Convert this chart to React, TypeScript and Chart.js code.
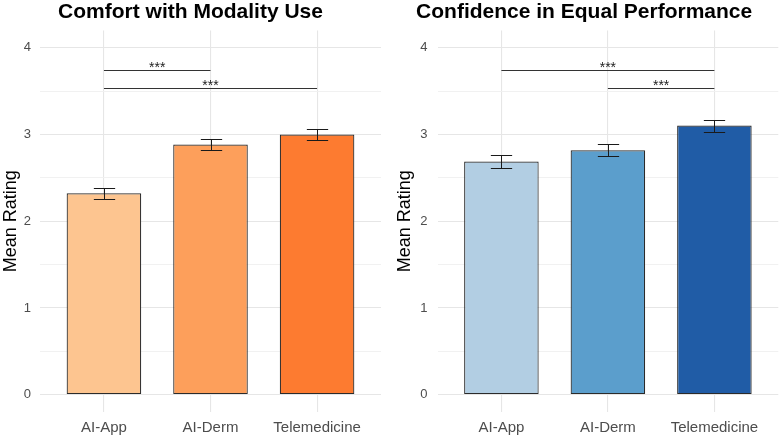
import React, { useEffect, useRef } from "react";
import { Chart, registerables } from "chart.js";

Chart.register(...registerables);

// Categories and data
const modalities = ["AI-App", "AI-Derm", "Telemedicine"];

const comfortMeans = [2.323, 2.885, 3.0];
const comfortSE = [0.065, 0.064, 0.06];
const comfortColors = ["#FDC590", "#FD9F5B", "#FD7B30"];
const comfortBracketFrom = ["AI-App", "AI-App"];
const comfortBracketTo = ["AI-Derm", "Telemedicine"];
const comfortBracketY = [3.74, 3.54];
const comfortBracketLabel = ["***", "***"];

const confidenceMeans = [2.688, 2.819, 3.104];
const confidenceSE = [0.073, 0.072, 0.069];
const confidenceColors = ["#B2CEE3", "#5B9ECC", "#205CA6"];
const confidenceBracketFrom = ["AI-App", "AI-Derm"];
const confidenceBracketTo = ["Telemedicine", "Telemedicine"];
const confidenceBracketY = [3.74, 3.54];
const confidenceBracketLabel = ["***", "***"];

const yTickValues = [0, 0.5, 1, 1.5, 2, 2.5, 3, 3.5, 4];

const FONT = "'Liberation Sans', Arial, Helvetica, sans-serif";

// Mean ± SE whiskers drawn on top of the bars
const errorBarPlugin = {
  id: "errorBars",
  afterDatasetsDraw(chart: any, _args: any, opts: any) {
    const { ctx } = chart;
    const xs = chart.scales.x;
    const ys = chart.scales.y;
    ctx.save();
    ctx.strokeStyle = "#1a1a1a";
    ctx.lineWidth = 1;
    (opts.means as number[]).forEach((m, i) => {
      const cx = Math.round(xs.getPixelForValue(i + 1)) + 0.5;
      const half = xs.getPixelForValue(i + 1 + opts.capHalf) - xs.getPixelForValue(i + 1);
      const yTop = Math.round(ys.getPixelForValue(m + opts.errors[i])) + 0.5;
      const yBot = Math.round(ys.getPixelForValue(m - opts.errors[i])) + 0.5;
      ctx.beginPath();
      ctx.moveTo(cx, yTop);
      ctx.lineTo(cx, yBot);
      ctx.moveTo(cx - half, yTop);
      ctx.lineTo(cx + half, yTop);
      ctx.moveTo(cx - half, yBot);
      ctx.lineTo(cx + half, yBot);
      ctx.stroke();
    });
    ctx.restore();
  },
};

// Pairwise significance brackets above the bars
const sigBracketPlugin = {
  id: "sigBrackets",
  afterDatasetsDraw(chart: any, _args: any, opts: any) {
    const { ctx } = chart;
    const xs = chart.scales.x;
    const ys = chart.scales.y;
    ctx.save();
    ctx.strokeStyle = "#333333";
    ctx.fillStyle = "#222222";
    ctx.lineWidth = 1;
    ctx.font = `14px ${FONT}`;
    ctx.textAlign = "center";
    ctx.textBaseline = "alphabetic";
    (opts.from as string[]).forEach((f, i) => {
      const x1 = xs.getPixelForValue(modalities.indexOf(f) + 1);
      const x2 = xs.getPixelForValue(modalities.indexOf(opts.to[i]) + 1);
      const y = Math.round(ys.getPixelForValue(opts.y[i])) + 0.5;
      ctx.beginPath();
      ctx.moveTo(x1, y);
      ctx.lineTo(x2, y);
      ctx.stroke();
      ctx.fillText(opts.labels[i], (x1 + x2) / 2, y + 1.5);
    });
    ctx.restore();
  },
};

type PanelProps = {
  title: string;
  means: number[];
  se: number[];
  colors: string[];
  from: string[];
  to: string[];
  by: number[];
  labels: string[];
  axisWidth: number;
  tickPad: number;
  titlePad: number;
  padRight: number;
};

function Panel(p: PanelProps) {
  const ref = useRef<HTMLCanvasElement>(null);

  useEffect(() => {
    if (!ref.current) return;
    const chart = new Chart(ref.current, {
      type: "bar",
      data: {
        datasets: [
          {
            data: p.means.map((v, i) => ({ x: i + 1, y: v })),
            backgroundColor: p.colors,
            borderColor: "#2b2b2b",
            borderWidth: 1.2,
            borderSkipped: false,
            barPercentage: 0.7,
            categoryPercentage: 1,
          } as any,
        ],
      },
      plugins: [errorBarPlugin, sigBracketPlugin],
      options: {
        animation: false,
        responsive: false,
        layout: { padding: { left: 0, right: p.padRight, top: 0, bottom: 0 } },
        plugins: {
          legend: { display: false },
          tooltip: { enabled: false },
          title: {
            display: true,
            text: p.title,
            color: "#000000",
            font: { family: FONT, size: 21, weight: "bold", lineHeight: 1.0 },
            padding: { top: 2, bottom: 7.5 },
          },
          errorBars: { means: p.means, errors: p.se, capHalf: 0.1 },
          sigBrackets: { from: p.from, to: p.to, y: p.by, labels: p.labels },
        } as any,
        scales: {
          x: {
            type: "linear",
            min: 0.4,
            max: 3.6,
            offset: false,
            border: { display: false },
            grid: { color: "#E6E6E6", lineWidth: 1.1, drawTicks: false, offset: false },
            ticks: {
              color: "#4D4D4D",
              font: { family: FONT, size: 15 },
              padding: 7,
              autoSkip: false,
              maxRotation: 0,
              callback: (v: any) => modalities[Number(v) - 1] ?? "",
            },
            afterBuildTicks: (s: any) => {
              s.ticks = modalities.map((_, i) => ({ value: i + 1 }));
            },
            afterFit: (s: any) => {
              s.height = 24;
            },
          },
          y: {
            min: -0.2,
            max: 4.2,
            border: { display: false },
            grid: {
              drawTicks: false,
              color: (c: any) => (c.tick && c.tick.value % 1 === 0 ? "#E6E6E6" : "#EFEFEF"),
              lineWidth: (c: any) => (c.tick && c.tick.value % 1 === 0 ? 1.1 : 0.9),
            },
            ticks: {
              color: "#4D4D4D",
              font: { family: FONT, size: 13 },
              padding: p.tickPad,
              autoSkip: false,
              callback: (v: any) => (Number(v) % 1 === 0 ? String(v) : ""),
            },
            afterBuildTicks: (s: any) => {
              s.ticks = yTickValues.map((v) => ({ value: v }));
            },
            afterFit: (s: any) => {
              s.width = p.axisWidth;
            },
            title: {
              display: true,
              text: "Mean Rating",
              color: "#000000",
              font: { family: FONT, size: 18, lineHeight: 1.2 },
              padding: { top: p.titlePad, bottom: 0 },
            },
          },
        },
      } as any,
    });
    return () => chart.destroy();
  }, []);

  return <canvas ref={ref} width={390} height={436} style={{ width: 390, height: 436, display: "block" }} />;
}

export default function App() {
  return (
    <div
      style={{
        position: "fixed",
        left: 0,
        top: 0,
        width: 780,
        height: 436,
        background: "#ffffff",
        display: "flex",
      }}
    >
      <Panel
        title="Comfort with Modality Use"
        means={comfortMeans}
        se={comfortSE}
        colors={comfortColors}
        from={comfortBracketFrom}
        to={comfortBracketTo}
        by={comfortBracketY}
        labels={comfortBracketLabel}
        axisWidth={40}
        tickPad={9}
        titlePad={0.7}
        padRight={9}
      />
      <Panel
        title="Confidence in Equal Performance"
        means={confidenceMeans}
        se={confidenceSE}
        colors={confidenceColors}
        from={confidenceBracketFrom}
        to={confidenceBracketTo}
        by={confidenceBracketY}
        labels={confidenceBracketLabel}
        axisWidth={47.5}
        tickPad={10}
        titlePad={4.2}
        padRight={1.7}
      />
    </div>
  );
}
